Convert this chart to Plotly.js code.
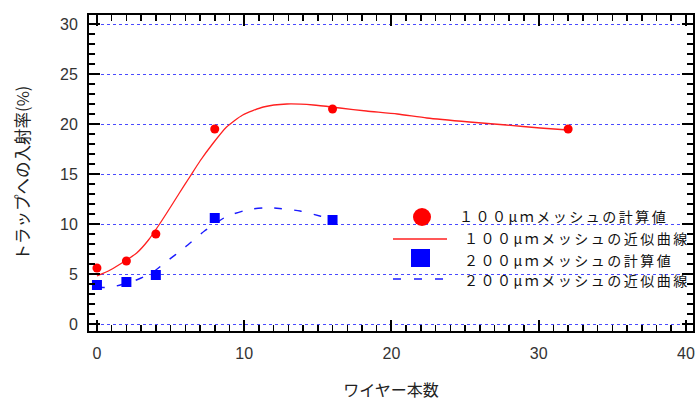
<!DOCTYPE html>
<html>
<head>
<meta charset="utf-8">
<script src="https://cdn.plot.ly/plotly-3.0.1.min.js"></script>
<style>
html,body{margin:0;padding:0;background:#fff;}
#chart{width:698px;height:401px;}
.annotation-text{letter-spacing:2.5px;}
</style>
</head>
<body>
<div id="chart"></div>
<script>
// ---- data ----
const wires100 = [0, 2, 4, 8, 16, 32];
const calc100  = [5.6, 6.3, 9.0, 19.5, 21.5, 19.5];
const wires200 = [0, 2, 4, 8, 16];
const calc200  = [3.9, 4.2, 4.9, 10.6, 10.4];

const fit100X = [0, 0.9, 1.8, 2.7, 3.5, 4.3, 5.0, 5.6, 6.3, 7.0, 7.9, 8.8, 9.9, 11.3, 12.9, 14.7, 16.5, 18.3, 20.4, 22.4, 25.3, 27.8, 30.1, 32];
const fit100Y = [4.8, 5.4, 6.2, 7.1, 8.4, 10.1, 11.7, 13.1, 14.7, 16.3, 18.1, 19.7, 20.9, 21.7, 22.0, 21.9, 21.6, 21.3, 21.0, 20.6, 20.2, 19.9, 19.6, 19.4];

const fit200X = [0, 0.5, 1.0, 1.7, 2.5, 3.0, 4.0, 4.6, 6.0, 7.3, 8.0, 8.8, 10.3, 11.6, 12.4, 13.8, 15.2, 16];
const fit200Y = [3.7, 3.65, 3.7, 3.95, 4.3, 4.6, 5.4, 6.1, 7.7, 9.3, 10.0, 10.75, 11.45, 11.63, 11.55, 11.3, 10.77, 10.4];

const legendLabels = ['１００μｍメッシュの計算値', '１００μｍメッシュの近似曲線', '２００μｍメッシュの計算値', '２００μｍメッシュの近似曲線'];
const xTitle = 'ワイヤー本数';
const yTitle = 'トラップへの入射率(%)';

// ---- geometry helpers (pixel -> paper) ----
const W = 698, H = 401;
const M = {l: 89, r: 5, t: 15, b: 70};
const PW = W - M.l - M.r, PH = H - M.t - M.b;
const px = x => (x - M.l) / PW;
const py = y => (H - M.b - y) / PH;

const JP = '"Noto Sans CJK JP", "Noto Sans", sans-serif';

const traces = [
  {x: fit100X, y: fit100Y, mode: 'lines', line: {color: '#ff2020', width: 1.3, shape: 'spline', smoothing: 0.6}, showlegend: false, hoverinfo: 'skip'},
  {x: fit200X, y: fit200Y, mode: 'lines', line: {color: '#1a1aff', width: 1.4, dash: '8px,12px', shape: 'spline', smoothing: 0.6}, showlegend: false, hoverinfo: 'skip'},
  {x: wires100, y: calc100, mode: 'markers', marker: {color: '#ff0000', size: 9, symbol: 'circle'}, name: legendLabels[0], showlegend: false},
  {x: wires200, y: calc200, mode: 'markers', marker: {color: '#0000ff', size: 10, symbol: 'square'}, name: legendLabels[2], showlegend: false}
];

const axisCommon = {
  showline: true, linecolor: '#000', linewidth: 2, mirror: 'allticks',
  ticks: 'inside', ticklen: 11, tickwidth: 2, tickcolor: '#000',
  zeroline: false,
  tickfont: {family: '"Liberation Sans", Arial, sans-serif', size: 16, color: '#333'}
};

const shapes = [
  {type: 'circle', xref: 'paper', yref: 'paper', x0: px(413), x1: px(431), y0: py(226), y1: py(208), fillcolor: '#ff0000', line: {width: 0}},
  {type: 'line', xref: 'paper', yref: 'paper', x0: px(393), x1: px(447), y0: py(239), y1: py(239), line: {color: '#ff2020', width: 1.5}},
  {type: 'rect', xref: 'paper', yref: 'paper', x0: px(411), x1: px(430), y0: py(267), y1: py(249), fillcolor: '#0000ff', line: {width: 0}},
  {type: 'line', xref: 'paper', yref: 'paper', x0: px(393), x1: px(447), y0: py(279), y1: py(279), line: {color: '#1a1aff', width: 1.5, dash: '8px,13px'}}
];

const legendY = [216, 238, 259.5, 280];
const legendX = [458, 463, 463, 463];
const annotations = legendLabels.map((t, i) => ({
  text: t, xref: 'paper', yref: 'paper', x: px(legendX[i]), y: py(legendY[i]),
  xanchor: 'left', yanchor: 'middle', showarrow: false, borderpad: 0,
  font: {family: JP, size: 14, color: '#111'}
}));

const layout = {
  width: W, height: H,
  margin: M,
  paper_bgcolor: '#fff', plot_bgcolor: '#fff',
  showlegend: false,
  xaxis: Object.assign({}, axisCommon, {
    range: [-0.54, 40.48], tick0: 0, dtick: 10, showgrid: false,
    minor: {dtick: 1, ticks: 'inside', ticklen: 6, tickwidth: 1.5, tickcolor: '#000', showgrid: false},
    ticklabelstandoff: 7,
    title: {text: xTitle, font: {family: JP, size: 16, color: '#222'}, standoff: 27}
  }),
  yaxis: Object.assign({}, axisCommon, {
    range: [-0.7, 30.9], tick0: 0, dtick: 5,
    showgrid: true, gridcolor: '#4a4aff', griddash: 'dot', gridwidth: 1,
    minor: {dtick: 1, ticks: 'inside', ticklen: 6, tickwidth: 1.5, tickcolor: '#000', showgrid: false},
    ticklabelstandoff: 6,
    title: {text: yTitle, font: {family: JP, size: 16.5, color: '#222'}, standoff: 26}
  }),
  shapes: shapes,
  annotations: annotations
};

Plotly.newPlot('chart', traces, layout, {staticPlot: true, displayModeBar: false});
</script>
</body>
</html>
